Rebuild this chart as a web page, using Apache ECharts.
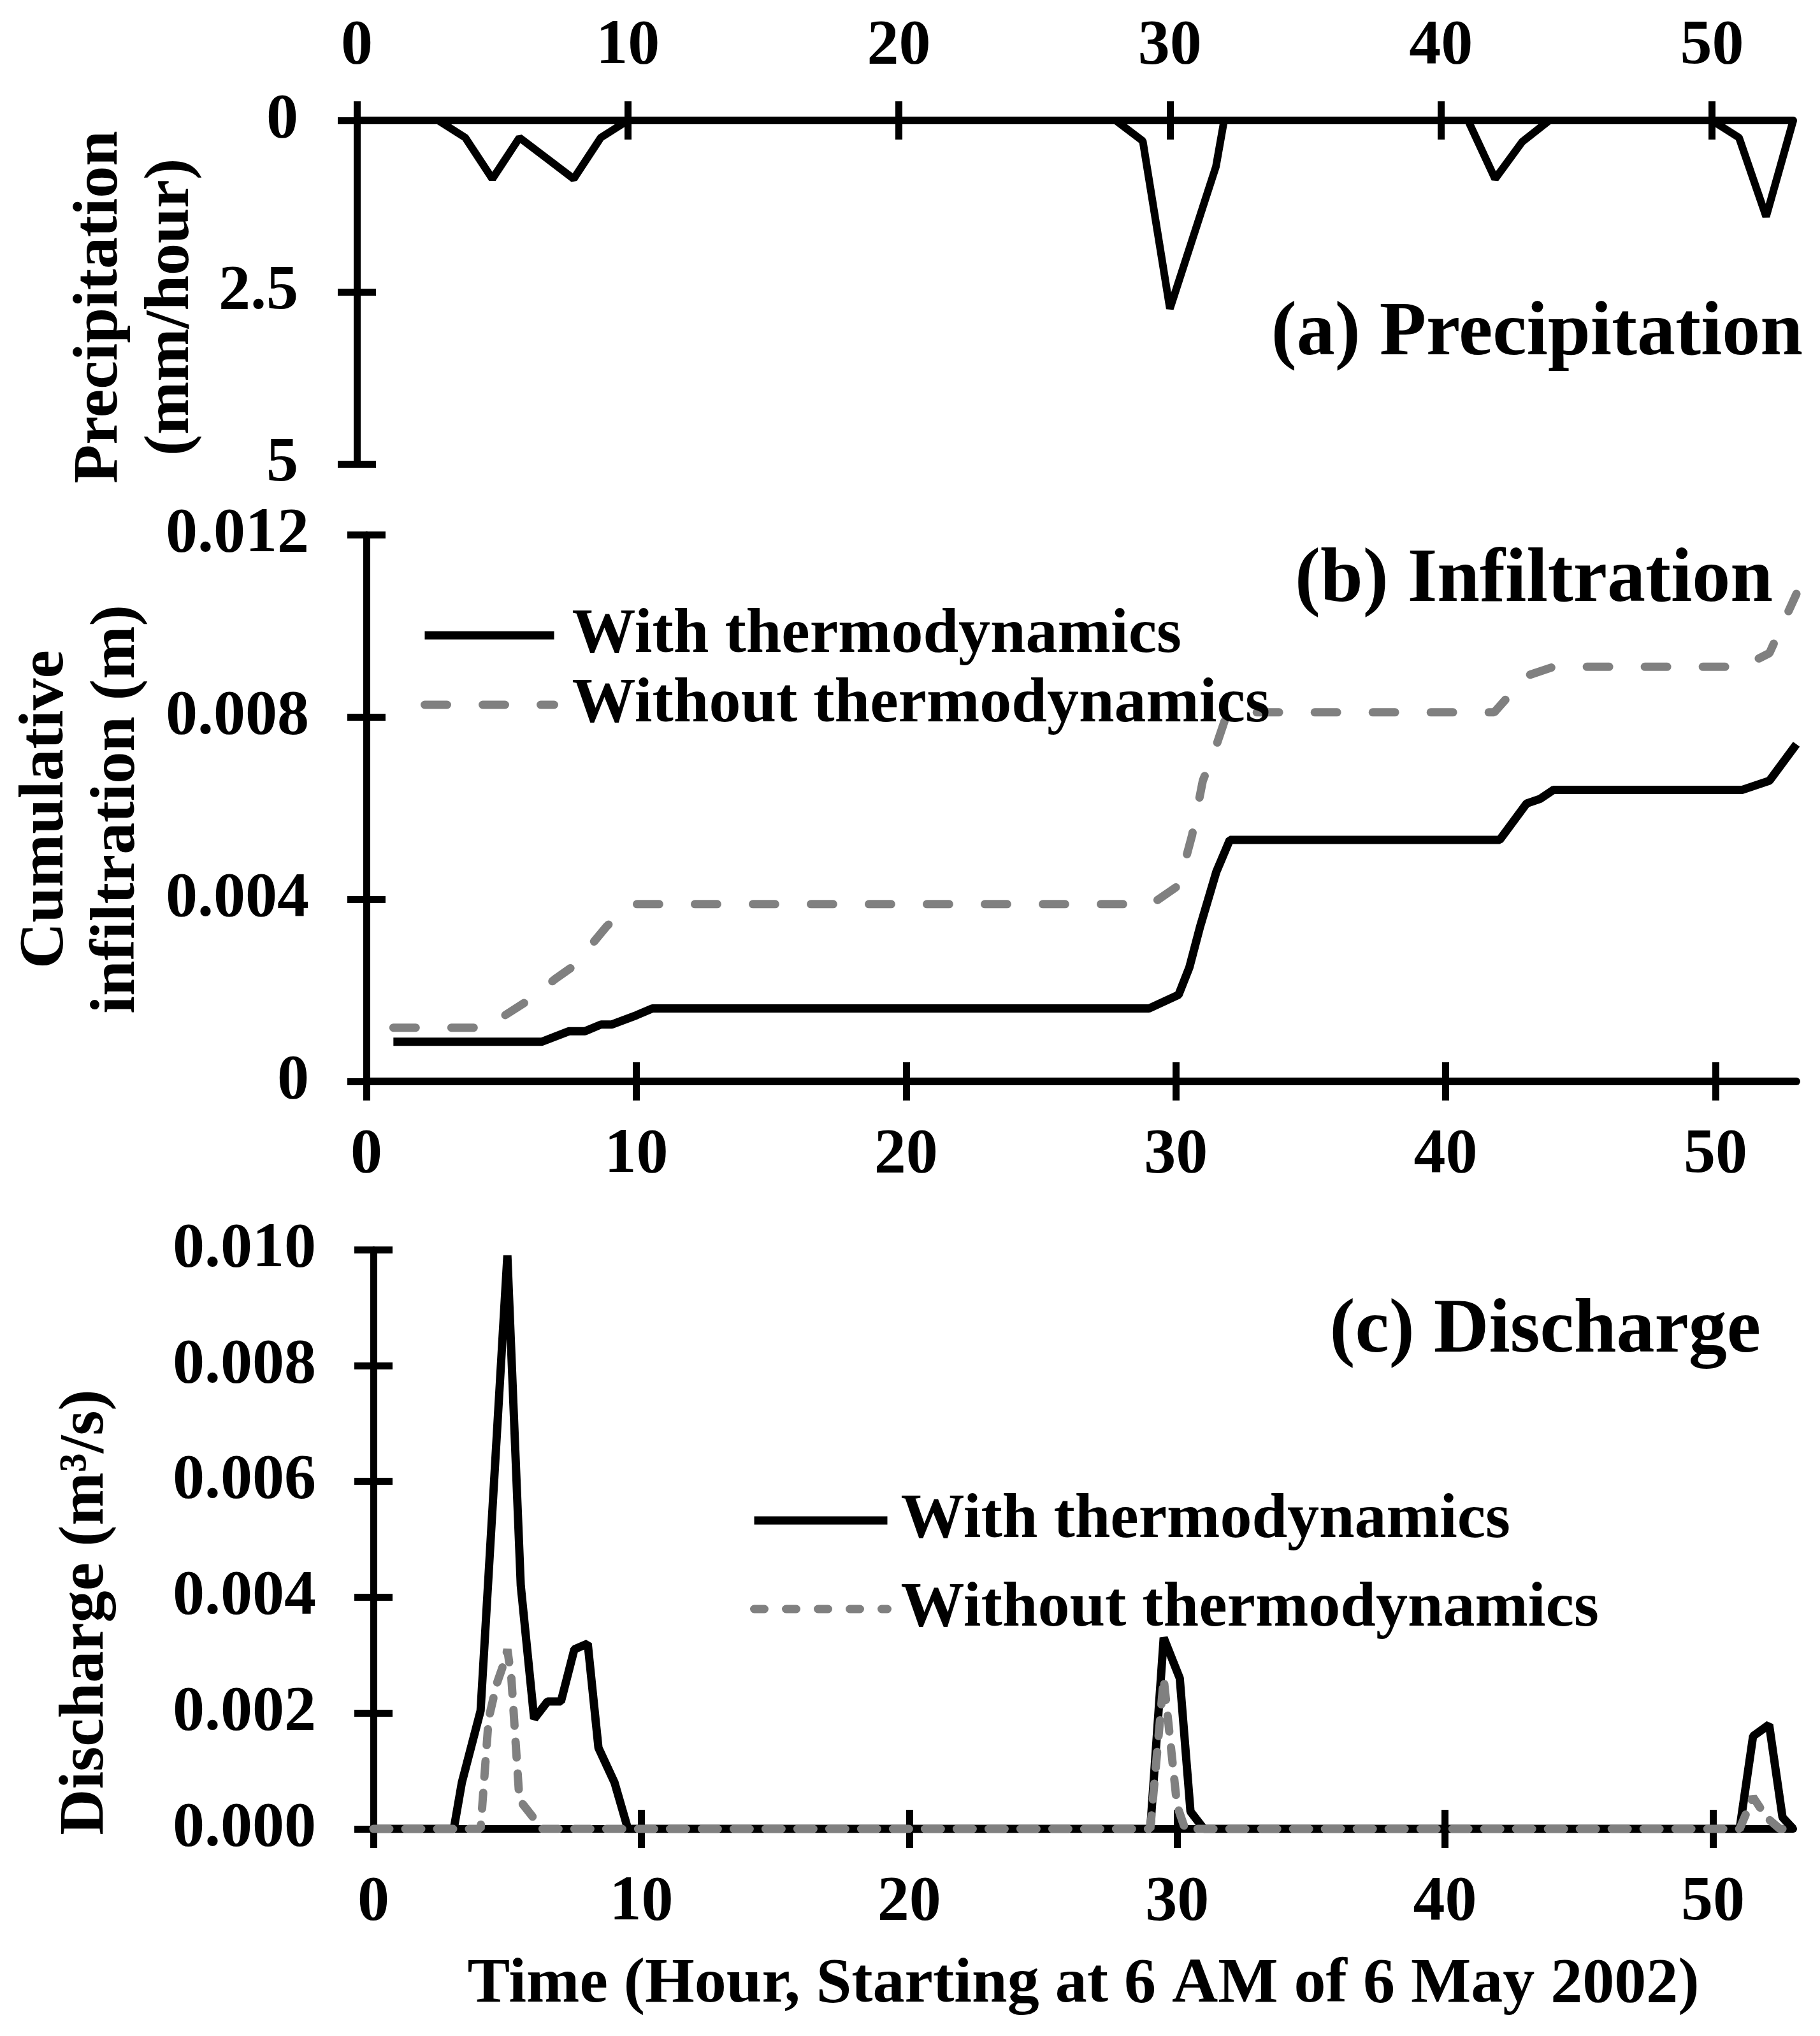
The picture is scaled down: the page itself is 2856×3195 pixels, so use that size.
<!DOCTYPE html>
<html>
<head>
<meta charset="utf-8">
<title>Precipitation, infiltration and discharge</title>
<script src="https://cdn.jsdelivr.net/npm/echarts@6/dist/echarts.min.js"></script>
<style>
  html, body { margin: 0; padding: 0; background: #fff; }
  #main { width: 2856px; height: 3195px; }
</style>
</head>
<body>
<div id="main"></div>
<script>
// tick labels
const hourTicks = [0, 10, 20, 30, 40, 50];
const precipTicks = [0, 2.5, 5];
const infilTicks = [0, 0.004, 0.008, 0.012];
const dischargeTicks = [0, 0.002, 0.004, 0.006, 0.008, 0.010];

const seriesNames = ['With thermodynamics', 'Without thermodynamics'];

// (a) precipitation, mm/hour
const precipHours = [1, 3, 4, 5, 6, 7, 8, 9, 10, 28, 29, 30, 31.7, 32, 41, 42, 43, 44, 50, 51, 52, 53];
const precipValues = [0, 0, 0.25, 0.85, 0.25, 0.55, 0.85, 0.25, 0, 0, 0.3, 2.74, 0.67, 0, 0, 0.85, 0.31, 0, 0, 0.25, 1.4, 0];

// (b) cumulative infiltration, m
const infilWithHours = [1, 6.5, 7.5, 8.1, 8.7, 9.1, 10, 10.6, 29, 30.1, 30.5, 30.9, 31.5, 32, 42, 43, 43.5, 44, 51, 52, 53];
const infilWithValues = [0.00087, 0.00087, 0.0011, 0.0011, 0.00125, 0.00125, 0.00145, 0.0016, 0.0016, 0.0019, 0.0025, 0.0034, 0.0046, 0.0053, 0.0053, 0.0061, 0.0062, 0.0064, 0.0064, 0.0066, 0.0074];
const infilWithoutHours = [1, 4.5, 5, 6, 7, 7.6, 8.2, 8.9, 9.6, 10, 29.1, 30.1, 30.6, 31, 31.4, 31.8, 32.2, 41.8, 42.4, 43, 44, 51, 52, 53];
const infilWithoutValues = [0.00118, 0.00118, 0.0014, 0.00178, 0.00225, 0.0025, 0.0029, 0.0034, 0.0038, 0.00389, 0.00389, 0.0043, 0.0054, 0.0066, 0.0072, 0.0079, 0.0081, 0.0081, 0.0085, 0.0089, 0.0091, 0.0091, 0.0094, 0.0107];

// (c) discharge, m3/s
const qWithHours = [0, 3, 3.3, 4, 5, 5.5, 6, 6.5, 7, 7.5, 8, 8.4, 9, 9.5, 29, 29.5, 30.1, 30.5, 31, 51, 51.5, 52.1, 52.6, 53];
const qWithValues = [0, 0, 0.0008, 0.00204, 0.0099, 0.0042, 0.0019, 0.0022, 0.0022, 0.0031, 0.0032, 0.0014, 0.0008, 0, 0, 0.0033, 0.0026, 0.0003, 0, 0, 0.0016, 0.0018, 0.0002, 0];
const qWithoutHours = [0, 4, 4.3, 4.6, 4.9, 5, 5.15, 5.45, 6.3, 29, 29.5, 30, 30.3, 51, 51.5, 52, 52.5, 53];
const qWithoutValues = [0, 0, 0.0019, 0.0025, 0.0029, 0.0031, 0.0026, 0.0005, 0, 0, 0.0026, 0.0004, 0, 0, 0.00055, 0.0002, 0, 0];

const FONT = 'Liberation Serif';
const GREY = '#808080';
const DASH_B = [35, 56];
const DASH_C = [25, 25];

function pairs(xs, ys) {
  return xs.map(function (x, i) { return [x, ys[i]]; });
}

function textStyle(extra) {
  return Object.assign({ color: '#000', fontFamily: FONT, fontWeight: 'bold', fontSize: 100 }, extra || {});
}

// one visible axis plus a twin with inward ticks, so the ticks cross the line
function axisPair(opts) {
  var common = {
    type: 'value', gridIndex: opts.grid, min: opts.min, max: opts.max,
    position: opts.position, inverse: !!opts.inverse,
    splitLine: { show: false }
  };
  var label = textStyle({ margin: opts.margin, customValues: opts.ticks });
  if (opts.formatter) label.formatter = opts.formatter;
  var outer = Object.assign({}, common, {
    axisLine: { show: true, onZero: false, lineStyle: { color: '#000', width: opts.lineWidth } },
    axisTick: { show: true, length: 30, customValues: opts.ticks, lineStyle: { color: '#000', width: 11 } },
    axisLabel: label
  });
  var inner = Object.assign({}, common, {
    axisLine: { show: false, onZero: false },
    axisTick: { show: true, inside: true, length: 30, customValues: opts.ticks, lineStyle: { color: '#000', width: 11 } },
    axisLabel: { show: false }
  });
  return [outer, inner];
}

function lineSeries(name, xi, data, dash) {
  return {
    name: name, type: 'line', xAxisIndex: xi, yAxisIndex: xi,
    data: data, symbol: 'none', showSymbol: false, silent: true,
    itemStyle: { color: dash ? GREY : '#000' },
    lineStyle: dash
      ? { color: GREY, width: 13, type: dash, cap: 'round' }
      : { color: '#000', width: 13 }
  };
}

// legend entries: only the line sample, no marker dot
function legendItems(dash) {
  var hidden = { color: 'rgba(0,0,0,0)', borderWidth: 0, opacity: 0 };
  return [
    { name: seriesNames[0], itemStyle: hidden, lineStyle: { color: '#000', width: 13, type: 'solid' } },
    { name: seriesNames[1], itemStyle: hidden, lineStyle: { color: GREY, width: 13, type: dash, cap: 'round' } }
  ];
}

var xAxes = [].concat(
  axisPair({ grid: 0, min: 0, max: 53, position: 'top', ticks: hourTicks, margin: 66, lineWidth: 12 }),
  axisPair({ grid: 1, min: 0, max: 53, position: 'bottom', ticks: hourTicks, margin: 66, lineWidth: 12 }),
  axisPair({ grid: 2, min: 0, max: 53, position: 'bottom', ticks: hourTicks, margin: 66, lineWidth: 12 })
);
var yAxes = [].concat(
  axisPair({ grid: 0, min: 0, max: 5, position: 'left', inverse: true, ticks: precipTicks, margin: 92, lineWidth: 11 }),
  axisPair({ grid: 1, min: 0, max: 0.012, position: 'left', ticks: infilTicks, margin: 90, lineWidth: 11,
    formatter: function (v) { return v === 0 ? '0' : v.toFixed(3); } }),
  axisPair({ grid: 2, min: 0, max: 0.010, position: 'left', ticks: dischargeTicks, margin: 90, lineWidth: 11,
    formatter: function (v) { return v.toFixed(3); } })
);

var option = {
  animation: false,
  backgroundColor: '#fff',
  grid: [
    { left: 560, top: 189, width: 2254, height: 539 },
    { left: 575, top: 839, width: 2244, height: 858 },
    { left: 586, top: 1961, width: 2228, height: 909 }
  ],
  xAxis: xAxes,
  yAxis: yAxes,
  legend: [
    {
      orient: 'vertical', left: 655, top: 942, padding: 5,
      itemWidth: 203, itemHeight: 30, itemGap: 9,
      selectedMode: false,
      textStyle: textStyle({ padding: [0, 0, 0, 23], lineHeight: 100 }),
      data: legendItems(DASH_B)
    },
    {
      orient: 'vertical', left: 1172, top: 2331, padding: 5,
      itemWidth: 209, itemHeight: 30, itemGap: 39,
      selectedMode: false,
      textStyle: textStyle({ padding: [0, 0, 0, 16], lineHeight: 100 }),
      data: legendItems([16, 34])
    }
  ],
  series: [
    { name: 'Precipitation', type: 'line', xAxisIndex: 0, yAxisIndex: 0, data: pairs(precipHours, precipValues),
      symbol: 'none', silent: true, lineStyle: { color: '#000', width: 12 } },
    lineSeries(seriesNames[0], 2, pairs(infilWithHours, infilWithValues)),
    lineSeries(seriesNames[1], 2, pairs(infilWithoutHours, infilWithoutValues), DASH_B),
    lineSeries(seriesNames[0], 4, pairs(qWithHours, qWithValues)),
    lineSeries(seriesNames[1], 4, pairs(qWithoutHours, qWithoutValues), DASH_C)
  ],
  graphic: [
    { type: 'text', x: 2829, y: 525, style: { text: '(a) Precipitation', fill: '#000', font: 'bold 120px "Liberation Serif"', align: 'right', verticalAlign: 'middle' } },
    { type: 'text', x: 2782, y: 912, style: { text: '(b) Infiltration', fill: '#000', font: 'bold 120px "Liberation Serif"', align: 'right', verticalAlign: 'middle' } },
    { type: 'text', x: 2763, y: 2090, style: { text: '(c) Discharge', fill: '#000', font: 'bold 120px "Liberation Serif"', align: 'right', verticalAlign: 'middle' } },
    { type: 'text', x: 213, y: 482, rotation: Math.PI / 2,
      style: { text: 'Precipitation\n(mm/hour)', fill: '#000', font: 'bold 100px "Liberation Serif"', lineHeight: 112, align: 'center', verticalAlign: 'middle' } },
    { type: 'text', x: 128, y: 1270, rotation: Math.PI / 2,
      style: { text: 'Cumulative\ninfiltration (m)', fill: '#000', font: 'bold 100px "Liberation Serif"', lineHeight: 112, align: 'center', verticalAlign: 'middle' } },
    { type: 'text', x: 135, y: 2530, rotation: Math.PI / 2,
      style: { text: 'Discharge (m\u00b3/s)', fill: '#000', font: 'bold 100px "Liberation Serif"', align: 'center', verticalAlign: 'middle' } },
    { type: 'text', x: 1700, y: 3115,
      style: { text: 'Time (Hour, Starting at 6 AM of 6 May 2002)', fill: '#000', font: 'bold 100px "Liberation Serif"', align: 'center', verticalAlign: 'middle' } }
  ]
};

var chart = echarts.init(document.getElementById('main'));
chart.setOption(option);
window.addEventListener('resize', function () {
  chart.resize();
});
</script>
</body>
</html>
